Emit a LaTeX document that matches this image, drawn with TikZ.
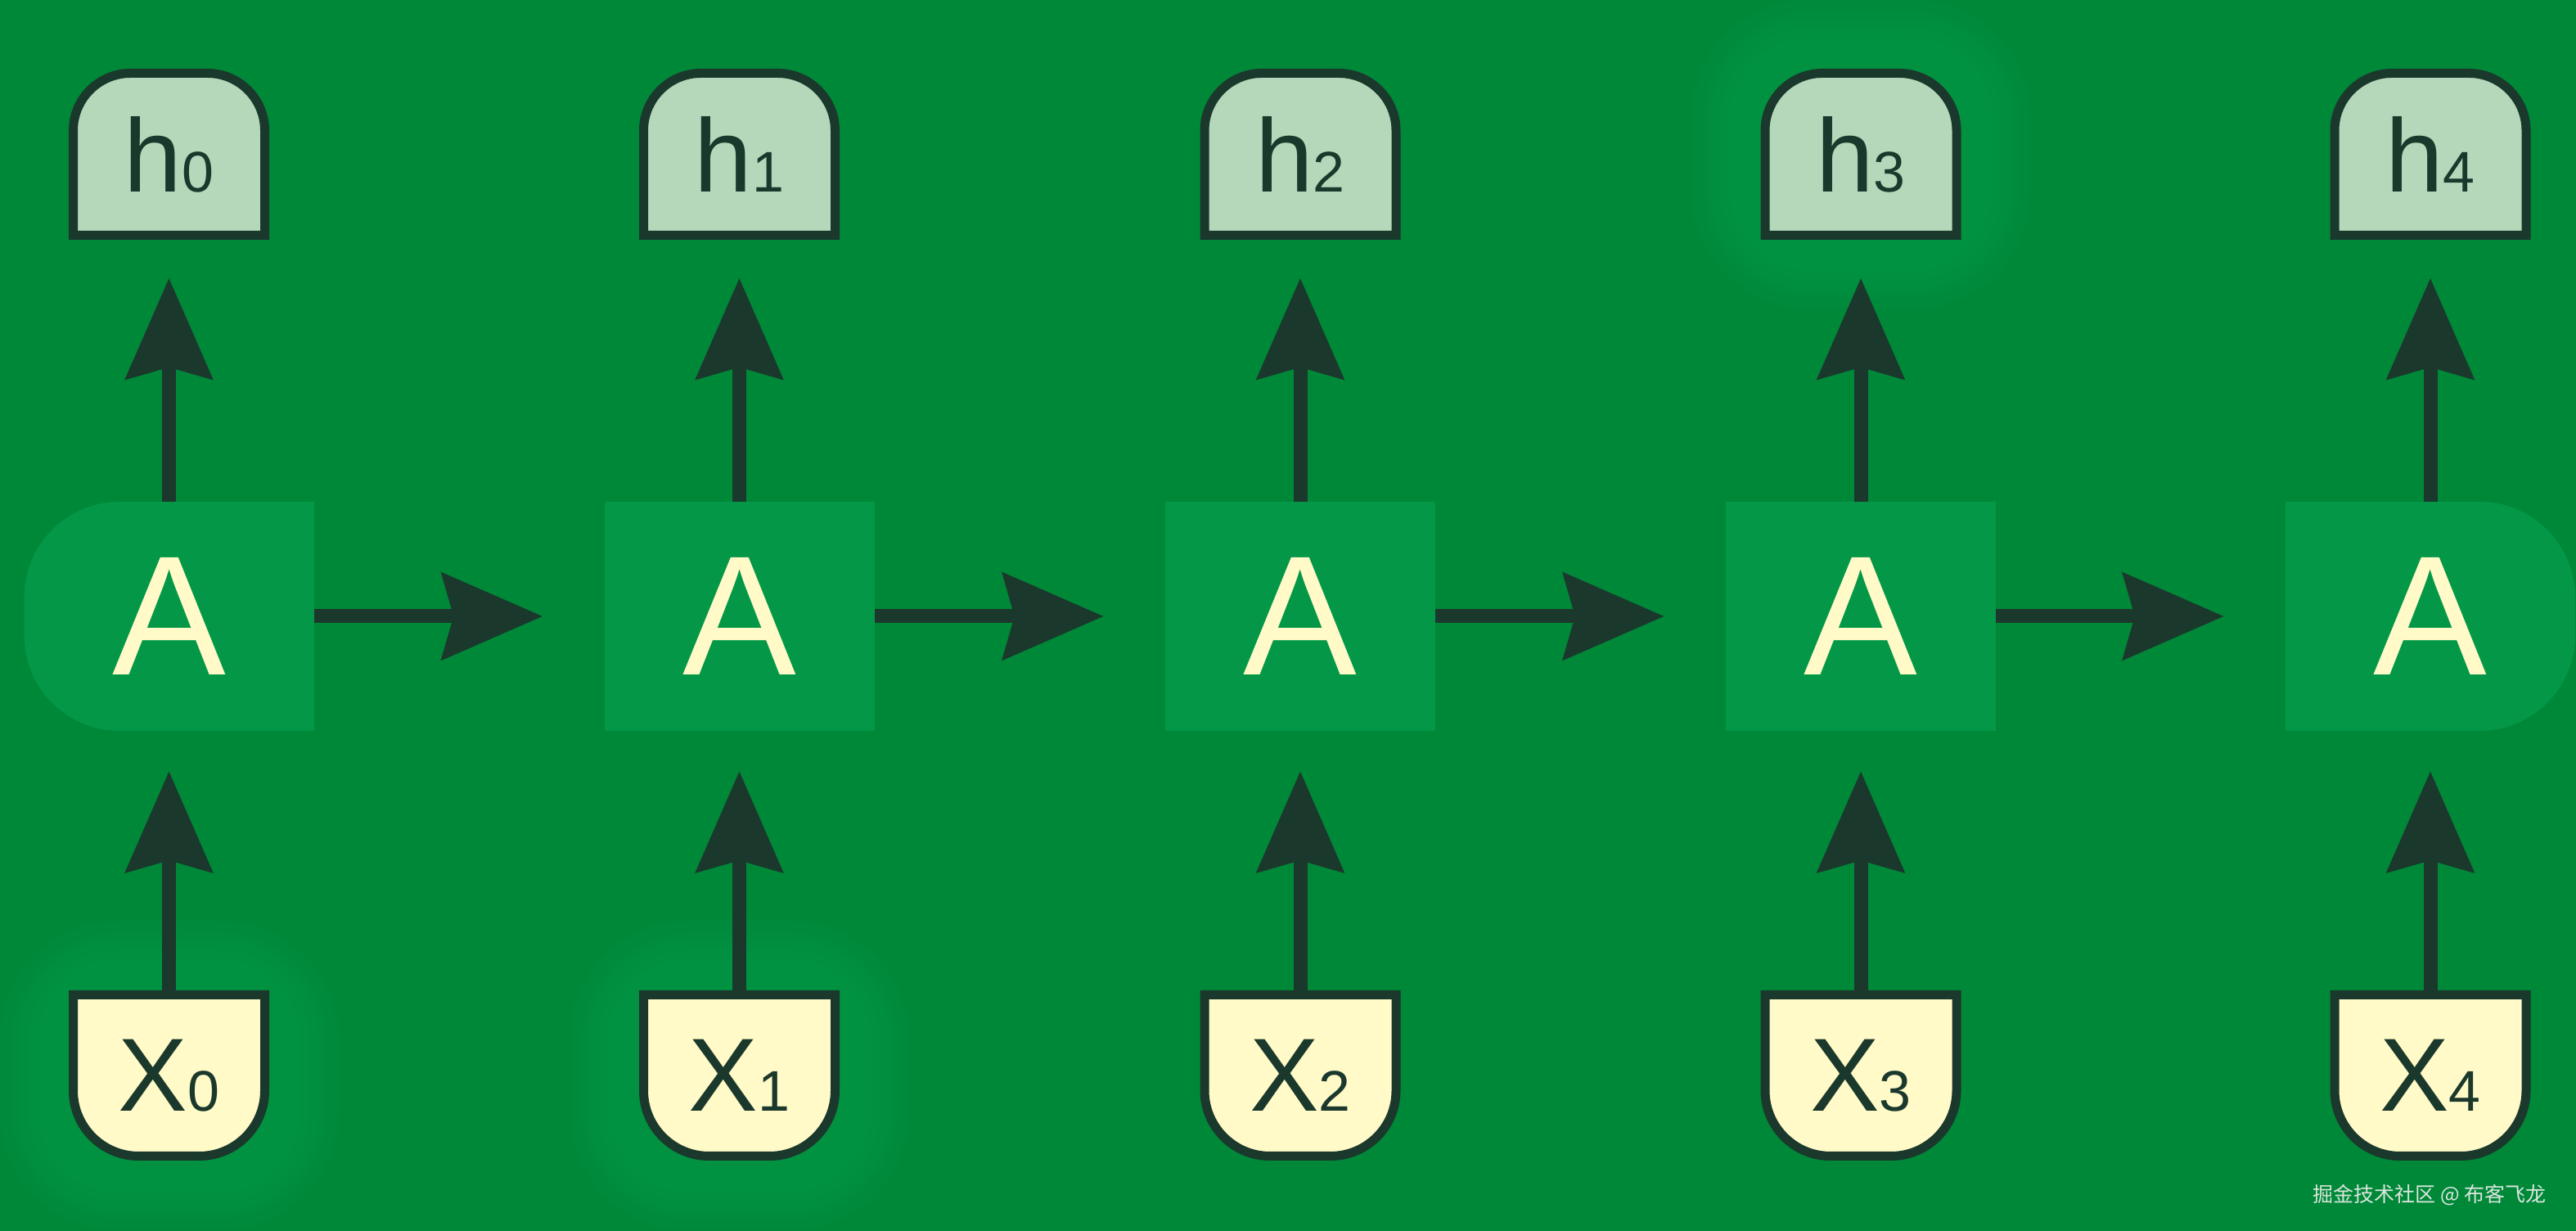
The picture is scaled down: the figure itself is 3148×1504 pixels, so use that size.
\documentclass[tikz,border=0pt]{standalone}
\usepackage{fontspec}
\setmainfont{Liberation Sans}
\newfontfamily\cjk{Noto Sans CJK SC}
\usetikzlibrary{arrows.meta}
\definecolor{bgc}{RGB}{0,136,57}
\definecolor{aboxc}{RGB}{4,151,72}
\definecolor{darkc}{RGB}{27,56,44}
\definecolor{hfillc}{RGB}{180,216,185}
\definecolor{xfillc}{RGB}{255,250,199}
\definecolor{atextc}{RGB}{255,250,199}
\definecolor{glowc}{RGB}{10,162,80}
\definecolor{wmc}{RGB}{218,230,220}
\begin{document}
\begin{tikzpicture}[x=1pt,y=1pt,
  conn/.style={draw=darkc, line width=17pt,
    -{Stealth[length=123pt 0, width=105pt 0, inset=14pt 0]}},
  anode/.style={rectangle, inner sep=0pt, minimum width=330pt, minimum height=280pt,
    fill=aboxc, text=atextc, font=\fontsize{208}{208}\selectfont},
  hnode/.style={rectangle, inner sep=0pt, minimum width=234pt, minimum height=198pt,
    text=darkc},
  shapeline/.style={draw=darkc, line width=11pt, line join=miter},
  hshape/.style={shapeline, fill=hfillc},
  xshape/.style={shapeline, fill=xfillc},
  glowlayer/.style={fill=glowc, opacity=0.06},
  wm/.style={text=wmc, font=\cjk\fontsize{25}{25}\selectfont, inner sep=0pt}
]
\useasboundingbox (0,0) rectangle (3148,1504);
\fill[bgc] (0,0) rectangle (3148,1504);

% glows (x0, x1 bottom; h3 top)
\foreach \cx/\cy in {206.5/190, 903.5/190, 2274/1315.5}{
  \foreach \g [evaluate=\g as \r using 60+5.5*\g] in {1,...,16}{
    \fill[glowlayer, rounded corners=\r pt]
      (\cx-122-5.5*\g, \cy-104-5.5*\g) rectangle (\cx+122+5.5*\g, \cy+104+5.5*\g);
  }
}

% A boxes: rounded ends
\fill[aboxc, rounded corners=117pt] (29.5,611) rectangle (383.5,891);
\fill[aboxc] (250,611) rectangle (383.5,891);
\fill[aboxc, rounded corners=117pt] (2793,611) rectangle (3147,891);
\fill[aboxc] (2793,611) rectangle (2930,891);

\node[anode, fill=none, minimum width=354pt] (a0) at (206.5,751) {A};
\node[anode] (a1) at (903.5,751) {A};
\node[anode] (a2) at (1589,751) {A};
\node[anode] (a3) at (2274,751) {A};
\node[anode, fill=none, minimum width=354pt] (a4) at (2970,751) {A};

% h and x boxes
\foreach \x [count=\i from 0] in {206.5,903.5,1589,2274,2970}{
  \filldraw[hshape] (\x-117,1216.5) -- (\x-117,1344.5)
    arc[start angle=180, end angle=90, radius=70pt] -- (\x+47,1414.5)
    arc[start angle=90, end angle=0, radius=70pt] -- (\x+117,1216.5) -- cycle;
  \node[hnode] (h\i) at (\x,1315.5)
    {\fontsize{127}{127}\selectfont h\fontsize{70}{70}\selectfont\i};
  \filldraw[xshape] (\x-117,288.5) -- (\x-117,171.5)
    arc[start angle=180, end angle=270, radius=80pt] -- (\x+37,91.5)
    arc[start angle=270, end angle=360, radius=80pt] -- (\x+117,288.5) -- cycle;
  \node[hnode, minimum height=197pt] (x\i) at (\x,190)
    {\fontsize{127}{127}\selectfont X\fontsize{70}{70}\selectfont\i};
}

% connectors
\foreach \i in {0,...,4}{
  \draw[conn, shorten >=52pt] (a\i.north) -- (h\i.south);
  \draw[conn, shorten >=49pt] (x\i.north) -- (a\i.south);
}
\foreach \i [evaluate=\i as \j using int(\i+1)] in {0,...,3}{
  \draw[conn, shorten >=75pt] (a\i.east) -- (a\j.west);
}

\node[wm, anchor=base east] (wm) at (3112,35) {掘金技术社区 @ 布客飞龙};
\end{tikzpicture}
\end{document}
